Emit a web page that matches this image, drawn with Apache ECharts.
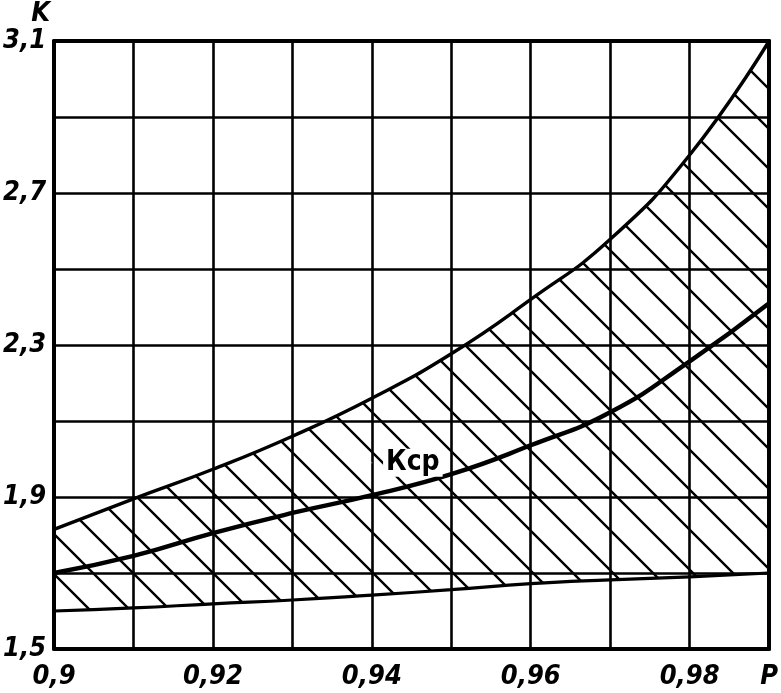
<!DOCTYPE html>
<html><head><meta charset="utf-8">
<script src="https://cdn.jsdelivr.net/npm/echarts@6/dist/echarts.min.js"></script>
<style>html,body{margin:0;padding:0;background:#fff}#c{width:781px;height:693px}</style>
</head><body><div id="c"></div>
<script>
// Probability P (x) and coefficient K (y)
const P      = [0.90, 0.91, 0.92, 0.93, 0.94, 0.95, 0.96, 0.97, 0.98, 0.99];
const kUpper = [1.815, 1.895, 1.973, 2.06, 2.16, 2.277, 2.42, 2.578, 2.80, 3.10];
const kMean  = [1.70, 1.745, 1.805, 1.858, 1.905, 1.96, 2.036, 2.123, 2.257, 2.41];
const kLower = [1.60, 1.608, 1.619, 1.629, 1.642, 1.656, 1.672, 1.682, 1.69, 1.70];
const xTickLabels = ['0,9', '', '0,92', '', '0,94', '', '0,96', '', '0,98', 'P'];
const yTickLabels = ['1,5', '', '1,9', '', '2,3', '', '2,7', '', '3,1'];
const meanLabel = 'Кср';
const meanLabelPos = ['0.94', 1.99]; // anchor category and K value of the curve label

const FONT = '"DejaVu Sans Condensed", "Liberation Sans Narrow", "DejaVu Sans", sans-serif';

function hatchCanvas() {
  const s = 40;
  const c = document.createElement('canvas');
  c.width = s; c.height = s;
  const g = c.getContext('2d');
  g.strokeStyle = '#000';
  g.lineWidth = 2.4;
  g.beginPath();
  for (const o of [-s, 0, s]) { g.moveTo(o - 3, -3); g.lineTo(o + s + 3, s + 3); }
  g.stroke();
  return c;
}

const chart = echarts.init(document.getElementById('c'), null, {renderer: 'canvas'});
const labelStyle = {color: '#000', fontFamily: FONT, fontStyle: 'italic', fontWeight: 'bold', fontSize: 27};
const frameLine = {show: true, lineStyle: {color: '#000', width: 4}};

chart.setOption({
  animation: false,
  backgroundColor: '#fff',
  grid: {left: 53, right: 8, top: 41, bottom: 44, containLabel: false},
  xAxis: [{
    type: 'category', data: P.map(String), boundaryGap: false,
    axisLine: frameLine,
    axisTick: {show: false},
    splitLine: {show: true, interval: 0, lineStyle: {color: '#000', width: 2.6}},
    axisLabel: Object.assign({
      margin: 14, interval: 0,
      formatter: (v, i) => xTickLabels[i] || ''
    }, labelStyle)
  }, {
    type: 'category', data: P.map(String), boundaryGap: false, position: 'top',
    axisLine: frameLine, axisTick: {show: false}, axisLabel: {show: false}, splitLine: {show: false}
  }],
  yAxis: [{
    type: 'value', min: 1.5, max: 3.1, interval: 0.2,
    name: 'K', nameLocation: 'end', nameGap: 6,
    nameTextStyle: Object.assign({align: 'right', padding: [0, 4, 0, 0]}, labelStyle),
    axisLine: frameLine,
    axisTick: {show: false},
    splitLine: {show: true, lineStyle: {color: '#000', width: 2.6}},
    axisLabel: Object.assign({
      margin: 8, showMinLabel: true, showMaxLabel: true,
      formatter: v => yTickLabels[Math.round((v - 1.5) / 0.2)] || ''
    }, labelStyle)
  }, {
    type: 'value', min: 1.5, max: 3.1, interval: 0.2, position: 'right',
    axisLine: frameLine, axisTick: {show: false}, axisLabel: {show: false}, splitLine: {show: false}
  }],
  series: [
    {
      name: 'lower', type: 'line', stack: 'band', smooth: true, symbol: 'none', silent: true,
      data: kLower,
      lineStyle: {color: '#000', width: 3.2}, z: 3
    },
    {
      name: 'upper', type: 'line', stack: 'band', smooth: true, symbol: 'none', silent: true,
      data: kUpper.map((u, i) => u - kLower[i]),
      lineStyle: {color: '#000', width: 3.4},
      areaStyle: {color: {image: hatchCanvas(), repeat: 'repeat'}, opacity: 1}, z: 3
    },
    {
      name: 'mean', type: 'line', smooth: true, symbol: 'none', silent: true,
      data: kMean,
      lineStyle: {color: '#000', width: 4.4}, z: 4
    },
    {
      name: 'label', type: 'scatter', symbolSize: 1, silent: true,
      itemStyle: {color: '#fff', opacity: 1},
      data: [meanLabelPos],
      label: {show: true, position: 'inside', offset: [41, 0], formatter: meanLabel, color: '#000',
        fontFamily: FONT, fontSize: 28, fontWeight: 'bold',
        backgroundColor: '#fff', padding: [0, 3]},
      z: 5
    }
  ]
});
</script></body></html>
